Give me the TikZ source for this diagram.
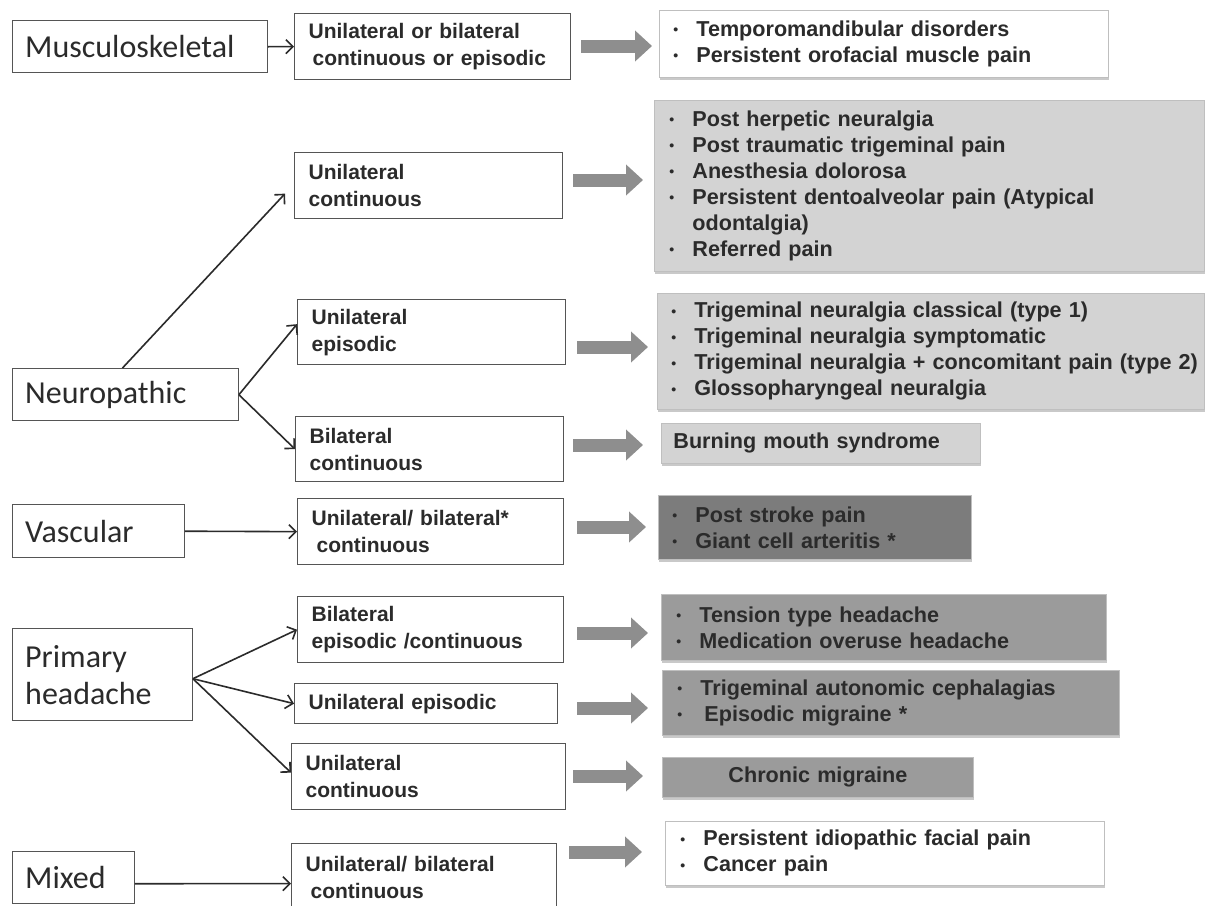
\documentclass[tikz,border=0pt]{standalone}
\usepackage{fontspec}
\setmainfont{Liberation Sans}
\newfontfamily\calfont{Carlito}
\usetikzlibrary{arrows.meta,shadows,calc}
\definecolor{txt}{HTML}{2B2B2B}
\definecolor{bord}{HTML}{555555}
\definecolor{lightbox}{HTML}{D3D3D3}
\definecolor{midbox}{HTML}{9B9B9B}
\definecolor{darkbox}{HTML}{7C7C7C}
\definecolor{arrowgray}{HTML}{8E8E8E}
\newcommand{\bul}{\makebox[23pt][l]{\raisebox{1.5pt}{\fontsize{14}{14}\selectfont\textbullet}}}
\newcommand{\li}[1]{\mbox{\bul#1}}
\begin{document}
\begin{tikzpicture}[x=1pt,y=-1pt,
  lbox/.style={draw=bord, line width=1.4pt, fill=white, anchor=north west, inner xsep=13pt, inner ysep=0pt,
    font=\calfont\fontsize{32}{37}\selectfont, text=txt, align=left},
  mbox/.style={draw=bord, line width=1.3pt, fill=white, anchor=north west, inner xsep=14pt, inner ysep=0pt,
    font=\bfseries\fontsize{21}{27}\selectfont, text=txt, align=left},
  rbox/.style={draw=black!25, line width=0.8pt, anchor=north west, inner xsep=14pt, inner ysep=0pt,
    font=\bfseries\fontsize{21.6}{26}\selectfont, text=txt, align=left,
    drop shadow={shadow xshift=1pt, shadow yshift=-3pt, opacity=0.35, fill=black!60}},
  tarr/.style={draw=txt, line width=1.6pt, -{Straight Barb[length=7pt,width=14pt]}},
  garr/.style={draw=arrowgray, line width=13pt, -{Triangle[length=17pt,width=30pt]}}
]
\useasboundingbox (0,0) rectangle (1206,905);
\clip (0,0) rectangle (1206,905);
\fill[white] (0,0) rectangle (1206,905);

% left category boxes
\node[lbox, minimum width=255, minimum height=52, text width=229pt] (musc) at (11.5,20) {Musculoskeletal};
\node[lbox, minimum width=226, minimum height=52, text width=200pt] (neuro) at (11.5,368) {Neuropathic};
\node[lbox, minimum width=172, minimum height=53, text width=146pt] (vasc) at (11.5,504) {Vascular};
\node[lbox, minimum width=180, minimum height=92, text width=154pt] (ph) at (11.5,628) {Primary\\headache};
\node[lbox, minimum width=122, minimum height=52, text width=96pt] (mixed) at (11.5,851) {Mixed};

% middle boxes
\node[mbox, minimum width=276, minimum height=66, text width=248pt] (m1) at (294,13) {Unilateral or bilateral\\\hspace*{4pt}continuous or episodic};
\node[mbox, minimum width=268, minimum height=66, text width=240pt] (m2) at (294,152) {Unilateral\\continuous};
\node[mbox, minimum width=268, minimum height=65, text width=240pt] (m3) at (297,299) {Unilateral\\episodic};
\node[mbox, minimum width=268, minimum height=65, text width=240pt] (m4) at (295,416) {Bilateral\\continuous};
\node[mbox, minimum width=266, minimum height=66, text width=238pt] (m5) at (297,498) {Unilateral/ bilateral*\\\hspace*{5pt}continuous};
\node[mbox, minimum width=266, minimum height=66, text width=238pt] (m6) at (297,596) {Bilateral\\episodic /continuous};
\node[mbox, minimum width=263, minimum height=40, text width=235pt] (m7) at (294,683) {Unilateral episodic};
\node[mbox, minimum width=274, minimum height=66, text width=246pt] (m8) at (291,743) {Unilateral\\continuous};
\node[mbox, minimum width=265, minimum height=68, text width=237pt] (m9) at (291,843) {Unilateral/ bilateral\\\hspace*{5pt}continuous};

% right boxes
\node[rbox, fill=white, minimum width=449, minimum height=67, text width=421pt] (r1) at (659,10)
  {\li{Temporomandibular disorders}\\\li{Persistent orofacial muscle pain}};
\node[rbox, fill=lightbox, minimum width=550, minimum height=171, text width=520pt, inner xsep=15pt] (r2) at (654,100)
  {\li{Post herpetic neuralgia}\\\li{Post traumatic trigeminal pain}\\\li{Anesthesia dolorosa}\\\li{Persistent dentoalveolar pain (Atypical}\\\mbox{\hspace*{23pt}odontalgia)}\\\li{Referred pain}};
\node[rbox, fill=lightbox, minimum width=547, minimum height=116, text width=519pt] (r3) at (657,293)
  {\li{Trigeminal neuralgia classical (type 1)}\\\li{Trigeminal neuralgia symptomatic}\\\li{Trigeminal neuralgia + concomitant pain (type 2)}\\\li{Glossopharyngeal neuralgia}};
\node[rbox, fill=lightbox, minimum width=319, minimum height=40, text width=295pt, inner xsep=12pt] (r4) at (661,423)
  {Burning mouth syndrome};
\node[rbox, fill=darkbox, minimum width=313, minimum height=64, text width=285pt] (r5) at (658,495)
  {\li{Post stroke pain}\\\li{Giant cell arteritis *}};
\node[rbox, fill=midbox, minimum width=445, minimum height=66, text width=415pt, inner xsep=15pt] (r6) at (661,594)
  {\li{Tension type headache}\\\li{Medication overuse headache}};
\node[rbox, fill=midbox, minimum width=457, minimum height=65, text width=427pt, inner xsep=15pt] (r7) at (662,670)
  {\li{Trigeminal autonomic cephalagias}\\\li{\hspace*{4pt}Episodic migraine *}};
\node[rbox, fill=midbox, minimum width=311, minimum height=40, text width=283pt, align=center] (r8) at (662,757)
  {Chronic migraine};
\node[rbox, fill=white, minimum width=439, minimum height=64, text width=409pt, inner xsep=15pt] (r9) at (665,821)
  {\li{Persistent idiopathic facial pain}\\\li{Cancer pain}};

% thin connectors
\draw[tarr] (musc.east) -- (m1.west);
\draw[tarr] ($(neuro.north west)+(111,0)$) -- ($(m2.west)+(-9,8)$);
\draw[tarr] (neuro.east) -- ($(m3.west)+(0,-8)$);
\draw[tarr] (neuro.east) -- (m4.west);
\draw[tarr] (vasc.east) -- (m5.west);
\draw[tarr] ($(ph.east)+(0,4)$) -- (m6.west);
\draw[tarr] ($(ph.east)+(0,4)$) -- (m7.west);
\draw[tarr] ($(ph.east)+(0,4)$) -- ($(m8.west)+(0,-4)$);
\draw[tarr] ($(mixed.east)+(0,6)$) -- ($(m9.west)+(0,6)$);

% gray block arrows
\draw[garr] ($(m1.east |- 0,46)+(10,0)$) -- ($(r1.west |- 0,46)+(-7,0)$);
\draw[garr] ($(m2.east |- 0,180)+(10,0)$) -- ($(r2.west |- 0,180)+(-11,0)$);
\draw[garr] ($(m3.east |- 0,347)+(11,0)$) -- ($(r3.west |- 0,347)+(-9,0)$);
\draw[garr] ($(m4.east |- 0,445)+(9,0)$) -- ($(r4.west |- 0,445)+(-18,0)$);
\draw[garr] ($(m5.east |- 0,527)+(13,0)$) -- ($(r5.west |- 0,527)+(-12,0)$);
\draw[garr] ($(m6.east |- 0,633)+(13,0)$) -- ($(r6.west |- 0,633)+(-13,0)$);
\draw[garr] ($(m7.east |- 0,708)+(19,0)$) -- ($(r7.west |- 0,708)+(-14,0)$);
\draw[garr] ($(m8.east |- 0,776)+(7,0)$) -- ($(r8.west |- 0,776)+(-19,0)$);
\draw[garr] ($(m9.east |- 0,852)+(12,0)$) -- ($(r9.west |- 0,852)+(-23,0)$);
\end{tikzpicture}
\end{document}
